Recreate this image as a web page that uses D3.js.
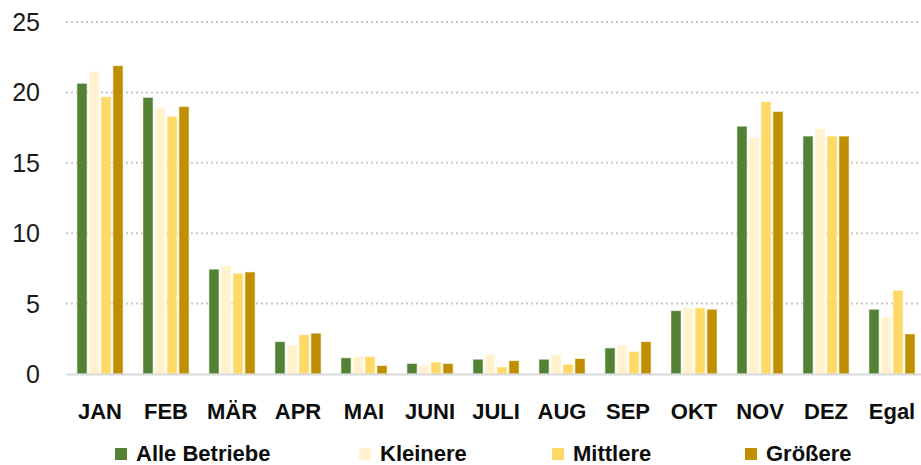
<!DOCTYPE html>
<html>
<head>
<meta charset="utf-8">
<script src="https://cdn.jsdelivr.net/npm/d3@7"></script>
<style>
  html, body { margin: 0; padding: 0; background: #fff; }
  svg { display: block; }
</style>
</head>
<body>
<svg id="chart" width="921" height="465"></svg>
<script>
const categories = ["JAN","FEB","MÄR","APR","MAI","JUNI","JULI","AUG","SEP","OKT","NOV","DEZ","Egal"];
const seriesNames = ["Alle Betriebe","Kleinere","Mittlere","Größere"];
const alleBetriebe = [20.65,19.65,7.45,2.3,1.15,0.75,1.05,1.05,1.85,4.5,17.6,16.9,4.6];
const kleinere     = [21.5,18.9,7.7,2.05,1.25,0.6,1.4,1.4,2.05,4.7,16.8,17.45,4.05];
const mittlere     = [19.7,18.3,7.15,2.8,1.25,0.85,0.5,0.7,1.6,4.7,19.35,16.9,5.95];
const groessere    = [21.9,19.0,7.25,2.9,0.6,0.75,0.95,1.1,2.3,4.6,18.65,16.9,2.85];
const yTicks = [0,5,10,15,20,25];
const colors = ["#548235","#FFF2CC","#FFD966","#BF8F00"];

const seriesValues = [alleBetriebe, kleinere, mittlere, groessere];
const data = categories.map((c,i) => ({cat:c, vals: seriesValues.map(s => s[i])}));

const svg = d3.select("#chart");
const x0 = d3.scaleBand().domain(categories).range([67, 925]).paddingInner(0.3).paddingOuter(0.15);
const x1 = d3.scaleBand().domain(d3.range(seriesNames.length)).range([0, x0.bandwidth()]).paddingInner(0.15);
const y = d3.scaleLinear().domain([0,25]).range([374, 22]);

// gridlines
svg.append("g").selectAll("line").data(yTicks.filter(t => t>0)).join("line")
  .attr("x1", 66).attr("x2", 921)
  .attr("y1", d => y(d)).attr("y2", d => y(d))
  .attr("stroke", "#c8c8c8").attr("stroke-width", 2)
  .attr("stroke-dasharray", "2,3");

// y tick labels
svg.append("g").selectAll("text").data(yTicks).join("text")
  .attr("x", 40).attr("y", d => y(d))
  .attr("dy", "0.36em")
  .attr("text-anchor", "end")
  .attr("font-family", "Liberation Sans, Arial, sans-serif")
  .attr("font-size", 25)
  .attr("fill", "#1a1a1a")
  .text(d => d);

// bars
const groups = svg.append("g").selectAll("g").data(data).join("g")
  .attr("transform", d => `translate(${x0(d.cat)},0)`);
groups.selectAll("rect").data(d => d.vals.map((v,k) => ({v,k}))).join("rect")
  .attr("x", d => x1(d.k))
  .attr("width", x1.bandwidth())
  .attr("y", d => y(d.v))
  .attr("height", d => y(0) - y(d.v))
  .attr("fill", d => colors[d.k])
  .attr("stroke", "#ffffff").attr("stroke-opacity", 0.6).attr("stroke-width", 1);

// baseline
svg.append("line").attr("x1", 66).attr("x2", 921).attr("y1", y(0)+0.5).attr("y2", y(0)+0.5)
  .attr("stroke", "#d9d9d9").attr("stroke-width", 2);

// x labels
svg.append("g").selectAll("text").data(categories).join("text")
  .attr("x", d => x0(d) + x0.bandwidth()/2)
  .attr("y", 419)
  .attr("text-anchor", "middle")
  .attr("font-family", "Liberation Sans, Arial, sans-serif")
  .attr("font-weight", "bold")
  .attr("font-size", 22)
  .attr("fill", "#0d0d0d")
  .text(d => d);

// legend
const legendX = [115, 359, 552, 745];
const leg = svg.append("g").selectAll("g").data(seriesNames).join("g")
  .attr("transform", (d,i) => `translate(${legendX[i]},0)`);
leg.append("rect").attr("x", 0).attr("y", 448).attr("width", 12).attr("height", 12)
  .attr("fill", (d,i) => colors[i]);
leg.append("text").attr("x", 21).attr("y", 461)
  .attr("font-family", "Liberation Sans, Arial, sans-serif")
  .attr("font-weight", "bold")
  .attr("font-size", 22)
  .attr("fill", "#0d0d0d")
  .text(d => d);
</script>
</body>
</html>
